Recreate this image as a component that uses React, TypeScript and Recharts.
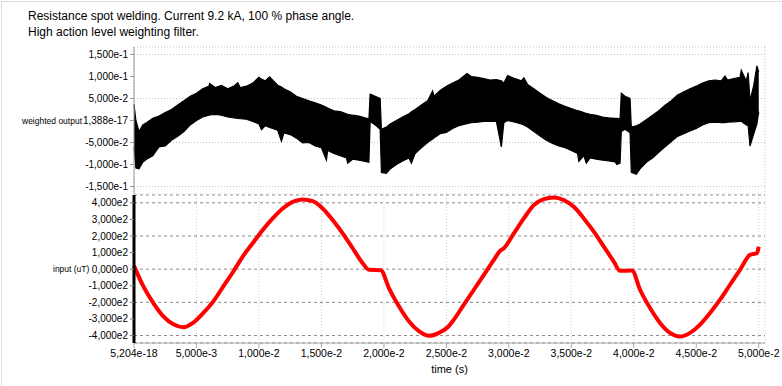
import React from "react";
import {
  ComposedChart,
  Area,
  LineChart,
  Line,
  XAxis,
  YAxis,
  CartesianGrid,
} from "recharts";

// time in ms, envelope of the weighted output band
const BAND_T = [
  0, 0.15, 0.4, 0.7, 1.0, 1.5, 2.0, 2.5, 3.0, 3.5, 4.0, 4.5, 5.0, 5.5, 6.0, 6.06, 6.5, 7.0, 7.5,
  8.0, 8.3, 8.5, 9.0, 9.5, 10.0, 10.2, 10.5, 10.85, 11.5, 11.8, 12.0, 12.5, 13.0, 13.5, 14.0, 14.5,
  15.0, 15.4, 15.5, 16.0, 16.5, 17.0, 17.1, 17.5, 18.0, 18.5, 18.8, 18.9, 19.3, 19.7, 19.8, 20.2,
  20.5, 21.0, 21.5, 22.0, 22.2, 22.5, 23.0, 23.5, 23.9, 24.0, 24.5, 25.0, 25.5, 26.0, 26.65, 27.0,
  27.5, 28.0, 28.5, 29.0, 29.4, 29.6, 29.9, 30.5, 31.0, 31.2, 31.5, 32.0, 32.5, 33.0, 33.5, 34.0,
  34.5, 35.0, 35.5, 35.6, 36.0, 36.2, 36.5, 37.0, 37.5, 38.0, 38.5, 38.65, 38.9, 39.0, 39.3, 39.7,
  39.8, 40.2, 40.5, 41.0, 41.5, 42.0, 42.5, 43.0, 43.5, 44.0, 44.5, 45.0, 45.5, 46.0, 46.5, 47.0,
  47.3, 47.5, 48.0, 48.5, 48.6, 49.0, 49.15, 49.3, 49.6, 49.85, 50.0,
];
const BAND_HI = [
  0.037, 0.0, -0.025, -0.01, -0.005, 0.005, 0.01, 0.018, 0.025, 0.035, 0.045, 0.055, 0.062, 0.072,
  0.078, 0.084, 0.075, 0.08, 0.072, 0.078, 0.086, 0.075, 0.078, 0.085, 0.098, 0.094, 0.09, 0.099,
  0.08, 0.076, 0.072, 0.065, 0.055, 0.05, 0.045, 0.04, 0.035, 0.03, 0.028, 0.022, 0.02, 0.015,
  0.014, 0.012, 0.01, 0.006, 0.004, 0.06, 0.055, 0.05, -0.02, -0.015, -0.008, 0.0, 0.008, 0.015,
  0.02, 0.025, 0.035, 0.045, 0.067, 0.055, 0.068, 0.078, 0.085, 0.092, 0.107, 0.1, 0.098, 0.095,
  0.092, 0.093, 0.09, 0.085, 0.102, 0.095, 0.09, 0.097, 0.082, 0.072, 0.062, 0.052, 0.045, 0.038,
  0.032, 0.027, 0.022, 0.022, 0.018, 0.016, 0.014, 0.012, 0.008, 0.006, 0.005, 0.005, 0.004, 0.062,
  0.055, 0.05, -0.015, -0.012, -0.008, 0.002, 0.012, 0.022, 0.035, 0.045, 0.058, 0.065, 0.072,
  0.078, 0.085, 0.09, 0.092, 0.09, 0.101, 0.092, 0.095, 0.098, 0.114, 0.09, 0.109, 0.045, 0.08,
  0.124, 0.11,
];
const BAND_LO = [
  -0.06, -0.108, -0.11, -0.095, -0.088, -0.08, -0.06, -0.058, -0.045, -0.036, -0.025, -0.01, 0.0,
  0.008, 0.012, 0.013, 0.014, 0.012, 0.008, 0.006, 0.005, 0.004, 0.003, -0.002, -0.008, -0.021,
  -0.012, -0.016, -0.022, -0.047, -0.028, -0.032, -0.04, -0.051, -0.05, -0.058, -0.062, -0.09,
  -0.068, -0.075, -0.08, -0.085, -0.097, -0.088, -0.09, -0.093, -0.095, -0.002, -0.01, -0.02,
  -0.118, -0.12, -0.11, -0.1, -0.092, -0.085, -0.097, -0.075, -0.062, -0.05, -0.042, -0.04, -0.03,
  -0.027, -0.018, -0.012, -0.007, -0.005, -0.004, -0.002, -0.002, -0.002, -0.06, -0.005, 0.0,
  -0.004, -0.008, -0.01, -0.015, -0.025, -0.035, -0.045, -0.052, -0.058, -0.062, -0.068, -0.075,
  -0.093, -0.08, -0.097, -0.085, -0.088, -0.09, -0.092, -0.094, -0.1, -0.097, -0.025, -0.02,
  -0.028, -0.118, -0.122, -0.11, -0.095, -0.085, -0.072, -0.06, -0.048, -0.036, -0.03, -0.024,
  -0.018, -0.01, -0.005, -0.004, -0.005, -0.005, -0.004, -0.003, -0.002, -0.002, -0.01, -0.012,
  -0.058, -0.03, -0.008, 0.02,
];

// time in ms, input field in uT
const INPUT_T = [
  0, 0.75, 1.55, 2.35, 3.15, 3.95, 4.75, 5.55, 6.35, 7.15, 7.95, 8.7, 9.5, 10.3, 11.1, 11.9, 12.7,
  13.5, 14.3, 15.1, 15.9, 16.7, 17.5, 18.3, 18.8, 19.75, 20.4, 21.2, 22.0, 22.8, 23.6, 24.4, 25.1,
  25.6, 26.4, 27.2, 28.0, 28.8, 29.3, 29.6, 30.4, 31.2, 32.0, 32.8, 33.6, 34.4, 35.2, 36.0, 36.8,
  37.6, 38.4, 38.9, 39.85, 40.5, 41.3, 42.1, 42.9, 43.7, 44.5, 45.3, 46.1, 46.9, 47.7, 48.5, 49.3,
  49.85, 50.0,
];
const INPUT_V = [
  20, -104, -204, -284, -332, -350, -322, -264, -194, -104, -14, 76, 156, 236, 306, 366, 406, 420,
  410, 366, 296, 216, 126, 36, -4, -6, -114, -224, -314, -374, -402, -384, -350, -304, -214, -124,
  -34, 56, 110, 126, 216, 306, 386, 422, 432, 416, 376, 306, 226, 136, 46, -10, -8, -124, -234,
  -324, -384, -406, -384, -334, -264, -184, -94, -4, 86, 96, 135,
];

const X_TICKS = [0, 0.005, 0.01, 0.015, 0.02, 0.025, 0.03, 0.035, 0.04, 0.045, 0.05];
const X_LABELS = [
  "5,204e-18", "5,000e-3", "1,000e-2", "1,500e-2", "2,000e-2", "2,500e-2",
  "3,000e-2", "3,500e-2", "4,000e-2", "4,500e-2", "5,000e-2",
];
const TOP_TICKS = [0.15, 0.1, 0.05, 0, -0.05, -0.1, -0.15];
const TOP_LABELS = [
  "1,500e-1", "1,000e-1", "5,000e-2", "1,388e-17", "-5,000e-2", "-1,000e-1", "-1,500e-1",
];
const BOTTOM_TICKS = [400, 300, 200, 100, 0, -100, -200, -300, -400];
const BOTTOM_LABELS = [
  "4,000e2", "3,000e2", "2,000e2", "1,000e2", "0,000e0",
  "-1,000e2", "-2,000e2", "-3,000e2", "-4,000e2",
];

const bandData = BAND_T.map((t, i) => ({ t: t / 1000, band: [BAND_LO[i], BAND_HI[i]] }));
const inputData = INPUT_T.map((t, i) => ({ t: t / 1000, v: INPUT_V[i] }));

const fmt = (ticks: number[], labels: string[]) => (v: number) => {
  const i = ticks.findIndex((x) => Math.abs(x - v) < 1e-9);
  return i >= 0 ? labels[i] : "";
};

const FONT = "'Liberation Sans', Arial, sans-serif";

export default function App() {
  return (
    <div
      style={{
        position: "absolute",
        left: 0,
        top: 0,
        width: 782,
        height: 386,
        background: "#fff",
        fontFamily: FONT,
        color: "#000",
      }}
    >
      <div
        style={{
          position: "absolute",
          left: 1,
          top: 1,
          width: 781,
          height: 385,
          borderLeft: "1px solid #dcdcdc",
          borderTop: "1px solid #dcdcdc",
        }}
      />
      <div style={{ position: "absolute", left: 28, top: 8, fontSize: 12, lineHeight: "16px" }}>
        <div>Resistance spot welding. Current 9.2 kA, 100 % phase angle.</div>
        <div>High action level weighting filter.</div>
      </div>

      <div style={{ position: "absolute", left: 0, top: 0 }}>
        <ComposedChart
          width={782}
          height={194}
          data={bandData}
          margin={{ top: 47, right: 17, left: 0, bottom: 0 }}
        >
          <CartesianGrid stroke="#c4c4c4" strokeDasharray="1 2" />
          <XAxis
            dataKey="t"
            type="number"
            domain={[0, 0.0505]}
            ticks={X_TICKS}
            height={0}
            tick={false}
            axisLine={false}
            tickLine={false}
          />
          <YAxis
            type="number"
            domain={[-0.167, 0.167]}
            ticks={TOP_TICKS}
            tickFormatter={fmt(TOP_TICKS, TOP_LABELS)}
            width={134}
            stroke="#999"
            tickSize={4}
            tick={{ fill: "#000", fontSize: 10 }}
            label={{
              value: "weighted output",
              position: "insideLeft",
              offset: 22,
              fill: "#000",
              fontSize: 8.5,
            }}
          />
          <Area
            dataKey="band"
            type="linear"
            fill="#000"
            fillOpacity={1}
            stroke="#000"
            strokeWidth={1.2}
            isAnimationActive={false}
          />
        </ComposedChart>
      </div>

      <div style={{ position: "absolute", left: 0, top: 0 }}>
        <LineChart
          width={782}
          height={386}
          data={inputData}
          margin={{ top: 195, right: 17, left: 0, bottom: 13 }}
        >
          <CartesianGrid horizontal={false} stroke="#cfcfcf" strokeDasharray="1 2" />
          <CartesianGrid vertical={false} stroke="#8a8a8a" strokeDasharray="3 3" />
          <XAxis
            dataKey="t"
            type="number"
            domain={[0, 0.0505]}
            ticks={X_TICKS}
            tickFormatter={fmt(X_TICKS, X_LABELS)}
            height={30}
            stroke="#aaa"
            tickSize={5}
            tickMargin={2}
            tick={{ fill: "#000", fontSize: 10.5 }}
            label={{
              value: "time (s)",
              position: "insideBottom",
              offset: 0,
              fill: "#000",
              fontSize: 11,
            }}
          />
          <YAxis
            type="number"
            domain={[-445, 447]}
            ticks={BOTTOM_TICKS}
            tickFormatter={fmt(BOTTOM_TICKS, BOTTOM_LABELS)}
            width={134}
            axisLine={{ stroke: "#000", strokeWidth: 3 }}
            tickLine={{ stroke: "#777" }}
            tickSize={4}
            tick={{ fill: "#000", fontSize: 10 }}
            label={{
              value: "input (uT)",
              position: "insideLeft",
              offset: 53,
              fill: "#000",
              fontSize: 8.5,
            }}
          />
          <Line
            dataKey="v"
            type="monotone"
            stroke="#f00"
            strokeWidth={4}
            dot={false}
            isAnimationActive={false}
          />
        </LineChart>
      </div>
    </div>
  );
}
